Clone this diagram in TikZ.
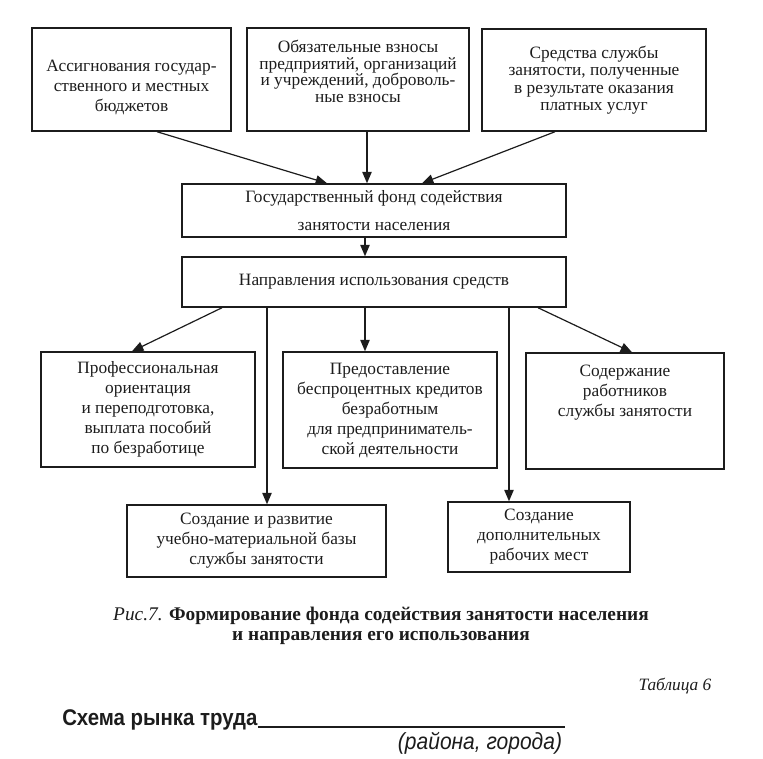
\documentclass[tikz,border=0pt]{standalone}
\usepackage{fontspec}
\usepackage{xcolor}
\usepackage{tikz}
\setmainfont{Liberation Serif}
\newfontfamily\narrowsans[FakeStretch=0.9]{Liberation Sans}
\usetikzlibrary{arrows.meta, calc}
\definecolor{scanink}{HTML}{1C1C1C}

\tikzset{
  fundbox/.style={draw=scanink, text=scanink, line width=1.1pt, align=center, inner sep=0pt,
    font=\fontsize{13}{15}\selectfont},
  fundflow/.style={draw=scanink, line width=0.9pt, -{Triangle[length=8.5pt,width=7pt]}},
}

\begin{document}
\begin{tikzpicture}[x=0.75pt, y=-0.75pt]
      \useasboundingbox (0,0) rectangle (763,758);
      % sources of the fund
      \node[fundbox, minimum width=149.25pt, minimum height=77.25pt] (budget) at (131.5,79.5)
        {~\\[5pt]Ассигнования государ-\\ственного и местных\\бюджетов};
      \node[fundbox, minimum width=166.5pt, minimum height=77.25pt, font=\fontsize{13}{12.5}\selectfont] (dues) at (358,79.5)
        {Обязательные взносы\\предприятий, организаций\\и учреждений, доброволь-\\ные взносы\\~};
      \node[fundbox, minimum width=168pt, minimum height=76.5pt, font=\fontsize{13}{13}\selectfont] (service) at (594,80)
        {Средства службы\\занятости, полученные\\в результате оказания\\платных услуг};
      % fund and its use
      \node[fundbox, minimum width=288pt, minimum height=39.75pt, font=\fontsize{13}{21}\selectfont] (fund) at (374,210.5)
        {Государственный фонд содействия\\занятости населения};
      \node[fundbox, minimum width=288pt, minimum height=37.5pt] (usage) at (374,282)
        {Направления использования средств};
      % directions
      \node[fundbox, minimum width=160.5pt, minimum height=86.25pt] (training) at (148,409.5)
        {Профессиональная\\ориентация\\и переподготовка,\\выплата пособий\\по безработице};
      \node[fundbox, minimum width=160.5pt, minimum height=87pt] (credit) at (390,410)
        {Предоставление\\беспроцентных кредитов\\безработным\\для предприниматель-\\ской деятельности};
      \node[fundbox, minimum width=148.5pt, minimum height=87pt] (staff) at (625,411)
        {Содержание\\работников\\службы занятости\\~\\~};
      \node[fundbox, minimum width=194.25pt, minimum height=54pt] (base) at (256.5,541)
        {Создание и развитие\\учебно-материальной базы\\службы занятости};
      \node[fundbox, minimum width=136.5pt, minimum height=52.5pt] (jobs) at (539,537)
        {Создание\\дополнительных\\рабочих мест};
      % inflows
      \draw[fundflow] ($(budget.south)+(25.5,0)$) -- ($(fund.north)+(-47,0)$);
      \draw[fundflow] ($(dues.south)+(9,0)$) -- ($(fund.north)+(-7,0)$);
      \draw[fundflow] ($(service.south)+(-39,0)$) -- ($(fund.north)+(48,0)$);
      \draw[fundflow] ($(fund.south)+(-9,0)$) -- ($(usage.north)+(-9,0)$);
      % outflows
      \coordinate (toBase) at ($(usage.south)+(-107,0)$);
      \coordinate (toCredit) at ($(usage.south)+(-9,0)$);
      \coordinate (toJobs) at ($(usage.south)+(135,0)$);
      \draw[fundflow] ($(usage.south)+(-152,0)$) -- ($(training.north)+(-16,0)$);
      \draw[fundflow] (toBase) -- (toBase |- base.north);
      \draw[fundflow] (toCredit) -- (toCredit |- credit.north);
      \draw[fundflow] (toJobs) -- (toJobs |- jobs.north);
      \draw[fundflow] ($(usage.south)+(164,0)$) -- ($(staff.north)+(7,0)$);
      % caption
      \node[font=\fontsize{14.5}{14.5}\selectfont\bfseries, text=scanink, align=center] (caption) at (381,626)
        {\textit{\mdseries Рис.7.} Формирование фонда содействия занятости населения\\и направления его использования};
      \node[font=\fontsize{13}{15}\selectfont\itshape, text=scanink, anchor=east] (tabno) at (716,686) {Таблица 6};
      \node[font=\narrowsans\fontsize{17}{20}\selectfont\bfseries, text=scanink, anchor=base west, inner sep=0pt] (scheme) at (62,725)
        {Схема рынка труда};
      \coordinate (lineEnd) at (565,727);
      \draw[scanink, line width=1pt] ($(scheme.base east)+(0,2)$) -- (lineEnd);
      \node[font=\narrowsans\fontsize{17.5}{20}\selectfont\itshape, text=scanink] (region) at (480,743) {(района, города)};
    \end{tikzpicture}
\end{document}
